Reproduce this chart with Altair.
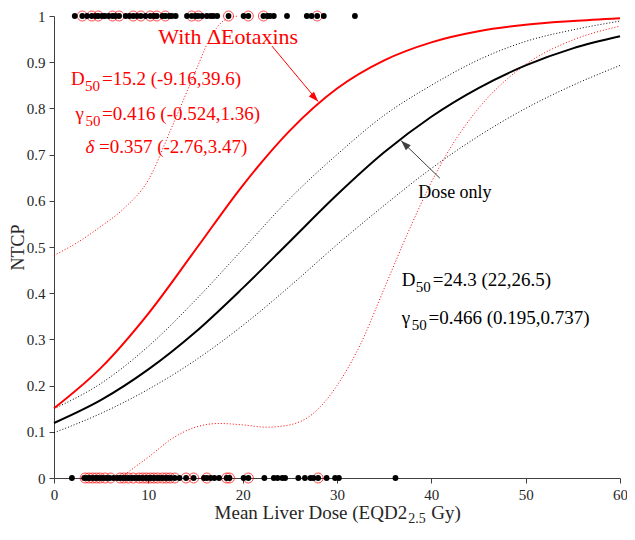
import altair as alt
import pandas as pd

FONT = "Liberation Serif"
RED = "#ff0000"
INK = "#262626"

# ---------------- data ----------------
curve_dose = [0, 5, 10, 15, 20, 25, 30, 35, 40, 45, 50, 55, 60]
dose_only = [0.119, 0.169, 0.235, 0.316, 0.411, 0.512, 0.613, 0.705, 0.782, 0.844, 0.893, 0.930, 0.956]
dose_only_upper = [0.150, 0.205, 0.285, 0.385, 0.495, 0.605, 0.700, 0.785, 0.850, 0.905, 0.945, 0.970, 0.989]
dose_only_lower = [0.098, 0.140, 0.192, 0.255, 0.330, 0.415, 0.505, 0.590, 0.670, 0.740, 0.800, 0.850, 0.893]
eotaxin = [0.151, 0.239, 0.356, 0.494, 0.633, 0.752, 0.843, 0.904, 0.943, 0.967, 0.981, 0.989, 0.995]

eot_upper_dose = [0, 2.5, 5, 7.5, 10, 12.5, 15, 16.5, 18, 19.5]
eot_upper = [0.482, 0.51, 0.545, 0.585, 0.645, 0.76, 0.88, 0.95, 0.99, 1.0]
eot_lower_dose = [7.0, 8, 10, 12.5, 15, 17.5, 20, 22.5, 25, 27.5, 30, 32.5, 35, 37.5, 40, 42.5, 45, 50, 55, 60]
eot_lower = [0.0, 0.015, 0.045, 0.085, 0.11, 0.118, 0.115, 0.11, 0.115, 0.14, 0.2, 0.29, 0.41, 0.53, 0.64,
             0.73, 0.80, 0.895, 0.948, 0.978]

tox_dose = [2.2, 3.0, 3.5, 4.0, 4.4, 4.7, 5.1, 5.4, 5.8, 6.2, 6.5, 6.9, 7.6, 8.0, 8.4, 8.8, 9.2, 9.7,
            10.2, 10.6, 10.9, 11.5, 11.8, 12.2, 12.5, 12.9, 14.1, 14.6, 15.0, 15.3, 15.7, 16.2, 16.6,
            16.9, 17.3, 18.5, 20.1, 20.6, 22.2, 22.6, 22.9, 23.3, 24.7, 26.8, 27.3, 27.9, 28.6, 31.9]
tox_marked = [3.0, 4.0, 4.7, 6.2, 6.9, 8.4, 9.2, 10.2, 10.9, 11.8, 14.6, 15.3, 18.5, 20.6, 22.2, 27.9]
nontox_dose = [1.9, 3.2, 3.5, 3.8, 4.1, 4.4, 4.7, 5.0, 5.3, 5.6, 5.9, 6.3, 6.7, 7.0, 7.3, 7.6, 7.9, 8.2,
               8.5, 8.8, 9.1, 9.4, 9.7, 10.0, 10.3, 10.6, 10.9, 11.2, 11.5, 11.8, 12.1, 12.4, 12.8, 13.3,
               14.0, 14.8, 15.9, 16.2, 16.6, 17.0, 17.5, 18.3, 18.6, 20.1, 20.6, 22.3, 23.3, 23.7, 24.2,
               24.5, 25.9, 26.6, 27.2, 27.5, 28.0, 28.9, 29.8, 30.2, 36.2]
nontox_marked = [3.3, 3.7, 4.1, 4.5, 4.9, 5.4, 6.0, 7.0, 7.4, 7.9, 8.4, 9.0, 9.4, 9.8, 10.2, 10.6, 11.0,
                 11.5, 11.9, 12.3, 12.8, 14.0, 14.8, 16.2, 18.3, 18.6, 20.6, 28.0]

x_ticks = [0, 10, 20, 30, 40, 50, 60]
y_ticks = [0, 0.1, 0.2, 0.3, 0.4, 0.5, 0.6, 0.7, 0.8, 0.9, 1]

# annotation texts and anchor positions (data units)
red_syms = ["D", "\u03b3", "\u03b4"]
red_subs = ["50", "50", ""]
red_rest = ["=15.2 (-9.16,39.6)", "=0.416 (-0.524,1.36)", "=0.357 (-2.76,3.47)"]
red_anchor_d = [1.81, 2.27, 3.33]
red_anchor_p = [0.8506, 0.7749, 0.7035]
red_rest_dx = [31, 26.7, 13.5]
red_sub_dx = [14, 10, 0]

blk_syms = ["D", "\u03b3"]
blk_subs = ["50", "50"]
blk_rest = ["=24.3 (22,26.5)", "=0.466 (0.195,0.737)"]
blk_anchor_d = [36.87, 36.87]
blk_anchor_p = [0.4156, 0.3333]

# ---------------- chart ----------------
xs = alt.Scale(domain=[0, 60], nice=False, zero=False)
ys = alt.Scale(domain=[0, 1], nice=False, zero=False)
axis_common = dict(labelFont=FONT, labelFontSize=15, labelColor=INK, tickColor="#404040",
                   domainColor="#404040", tickSize=5, labelPadding=4, grid=False, labelFlush=False)
xax = alt.Axis(values=x_ticks, title=None, **axis_common)
yax = alt.Axis(values=y_ticks, format="~g", title="NTCP", titleFont=FONT, titleFontSize=18,
               titleFontWeight="normal", titleColor=INK, titleX=-36, titleY=231,
               titleBaseline="middle", titleAngle=270, **axis_common)


def enc(**extra):
    d = dict(x=alt.X("D:Q", scale=xs, axis=xax), y=alt.Y("P:Q", scale=ys, axis=yax))
    d.update(extra)
    return d


def curve(d, p, **mk):
    df = pd.DataFrame({"D": d, "P": p})
    return alt.Chart(df).mark_line(interpolate="monotone", **mk).encode(**enc())


layers = []
layers.append(curve(curve_dose, dose_only_upper, color="black", strokeWidth=1, strokeDash=[1, 2]))
layers.append(curve(curve_dose, dose_only_lower, color="black", strokeWidth=1, strokeDash=[1, 2]))
layers.append(curve(eot_upper_dose, eot_upper, color=RED, strokeWidth=1, strokeDash=[1, 2]))
layers.append(curve(eot_lower_dose, eot_lower, color=RED, strokeWidth=1, strokeDash=[1, 2]))
layers.append(curve(curve_dose, dose_only, color="black", strokeWidth=2))
layers.append(curve(curve_dose, eotaxin, color=RED, strokeWidth=2))

# outcome points
marked = pd.DataFrame({"D": tox_marked + nontox_marked,
                       "P": [1] * len(tox_marked) + [0] * len(nontox_marked)})
allpts = pd.DataFrame({"D": tox_dose + nontox_dose,
                       "P": [1] * len(tox_dose) + [0] * len(nontox_dose)})
layers.append(alt.Chart(marked).mark_point(shape="circle", size=100, color=RED, strokeWidth=1,
                                           filled=False).encode(**enc()))
layers.append(alt.Chart(allpts).mark_point(shape="circle", size=34, color="black", filled=True,
                                           opacity=1).encode(**enc()))


def txt(d, p, t, **mk):
    df = pd.DataFrame({"D": d, "P": p, "t": t})
    base = dict(font=FONT, align="left", baseline="alphabetic")
    base.update(mk)
    return alt.Chart(df).mark_text(**base).encode(**enc(text="t:N"))


# red annotation block
for i in range(3):
    if red_syms[i] == "\u03b4":
        layers.append(txt([red_anchor_d[i]], [red_anchor_p[i]], [red_syms[i]], fontSize=19, color=RED,
                          fontStyle="italic"))
    else:
        layers.append(txt([red_anchor_d[i]], [red_anchor_p[i]], [red_syms[i]], fontSize=19, color=RED))
    if red_subs[i]:
        layers.append(txt([red_anchor_d[i]], [red_anchor_p[i]], [red_subs[i]], fontSize=15, color=RED,
                          dx=red_sub_dx[i], dy=6))
    layers.append(txt([red_anchor_d[i]], [red_anchor_p[i]], [red_rest[i]], fontSize=19, color=RED,
                      dx=red_rest_dx[i]))

# black annotation block
blk_sub_dx = [14, 10]
blk_rest_dx = [31, 26.7]
for i in range(2):
    layers.append(txt([blk_anchor_d[i]], [blk_anchor_p[i]], [blk_syms[i]], fontSize=19, color="black"))
    layers.append(txt([blk_anchor_d[i]], [blk_anchor_p[i]], [blk_subs[i]], fontSize=15, color="black",
                      dx=blk_sub_dx[i], dy=6))
    layers.append(txt([blk_anchor_d[i]], [blk_anchor_p[i]], [blk_rest[i]], fontSize=19, color="black",
                      dx=blk_rest_dx[i]))

layers.append(txt([11.06], [0.9394], ["With \u0394Eotaxins"], fontSize=22, color=RED))
layers.append(txt([38.6], [0.606], ["Dose only"], fontSize=18, color="black"))

# arrows
arrow_df = pd.DataFrame({"D": [23.1], "P": [0.935], "D2": [28.0], "P2": [0.815]})
layers.append(alt.Chart(arrow_df).mark_rule(color=RED, strokeWidth=1).encode(
    **enc(x2=alt.X2("D2"), y2=alt.Y2("P2"))))
layers.append(alt.Chart(pd.DataFrame({"D": [28.0], "P": [0.815]})).mark_point(
    shape="M0,0 L-0.35,1 L0.35,1 Z", size=400, angle=137.5, filled=True, color=RED, opacity=1).encode(**enc()))

arrow2_df = pd.DataFrame({"D": [40.9], "P": [0.649], "D2": [36.8], "P2": [0.73]})
layers.append(alt.Chart(arrow2_df).mark_rule(color="#404040", strokeWidth=1).encode(
    **enc(x2=alt.X2("D2"), y2=alt.Y2("P2"))))
layers.append(alt.Chart(pd.DataFrame({"D": [36.8], "P": [0.73]})).mark_point(
    shape="M0,0 L-0.35,1 L0.35,1 Z", size=400, angle=314, filled=True, color="#404040", opacity=1).encode(**enc()))

# x-axis title with subscript
layers.append(txt([37.44], [-0.0887], ["Mean Liver Dose (EQD2"], fontSize=19, color=INK, align="right"))
layers.append(txt([37.44], [-0.0887], ["2.5"], fontSize=14, color=INK, dx=1, dy=4))
layers.append(txt([37.44], [-0.0887], ["Gy)"], fontSize=19, color=INK, dx=24))

chart = alt.layer(*layers).properties(
    width=566, height=462,
    padding={"left": 46, "top": 8, "right": 7, "bottom": 50},
    autosize=alt.AutoSizeParams(type="none"),
).configure_view(stroke=None)

chart.save("out.html", embed_options={"renderer": "svg", "actions": False})
